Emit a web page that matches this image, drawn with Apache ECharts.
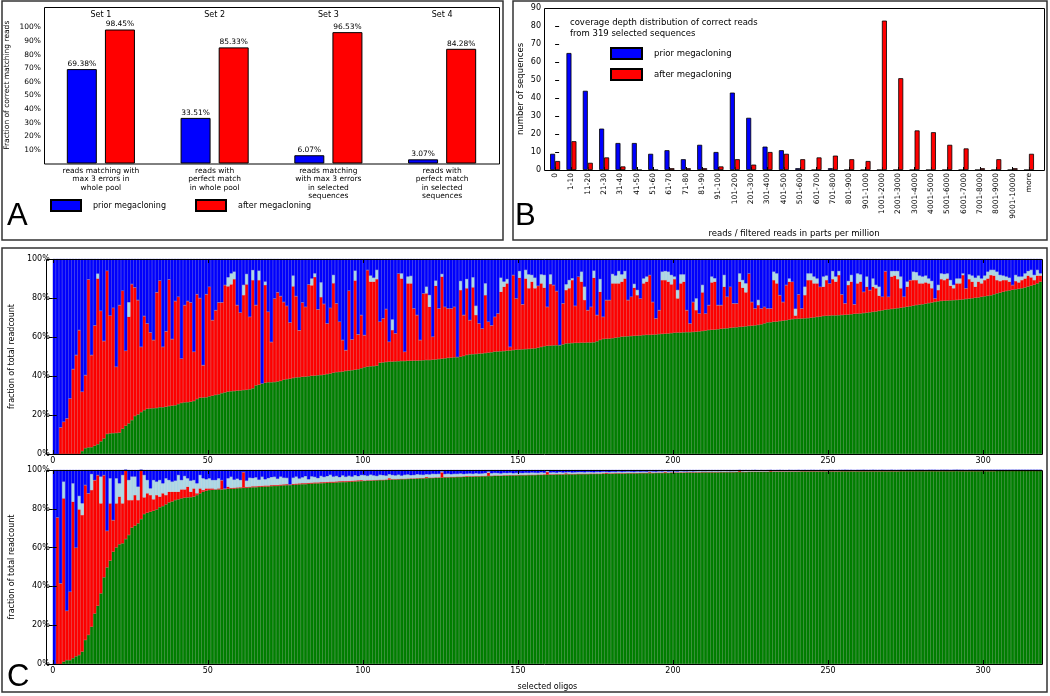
<!DOCTYPE html>
<html><head><meta charset="utf-8">
<script src="https://cdn.jsdelivr.net/npm/echarts@6/dist/echarts.min.js"></script>
<style>html,body{margin:0;padding:0;background:#fff}#c{width:1050px;height:696px}</style>
</head><body><div id="c"></div>
<script>
// ---------- Panel A ----------
const setNames = ['Set 1', 'Set 2', 'Set 3', 'Set 4'];
const aCategories = [
  'reads matching with\nmax 3 errors in\nwhole pool',
  'reads with\nperfect match\nin whole pool',
  'reads matching\nwith max 3 errors\nin selected\nsequences',
  'reads with\nperfect match\nin selected\nsequences'
];
const aPrior = [69.38, 33.51, 6.07, 3.07];
const aAfter = [98.45, 85.33, 96.53, 84.28];
const aTicks = [10, 20, 30, 40, 50, 60, 70, 80, 90, 100];

// ---------- Panel B ----------
const bCategories = ['0','1-10','11-20','21-30','31-40','41-50','51-60','61-70','71-80','81-90','91-100',
  '101-200','201-300','301-400','401-500','501-600','601-700','701-800','801-900','901-1000',
  '1001-2000','2001-3000','3001-4000','4001-5000','5001-6000','6001-7000','7001-8000','8001-9000','9001-10000','more'];
const bPrior = [9,65,44,23,15,15,9,11,6,14,10,43,29,13,11,1,0,1,0,0,0,0,0,0,0,0,0,0,0,0];
const bAfter = [5,16,4,7,2,0,0,1,1,1,2,6,3,10,9,6,7,8,6,5,83,51,22,21,14,12,1,6,1,9];

// ---------- Panel C (upper): cumulative tops in % ----------
const cTicks = [0, 50, 100, 150, 200, 250, 300];
const greenTop = [
0,0,0,0,0,0,0,0,0,1.5,
3,3.4,3.5,4.2,5,6.5,8,10.3,10.6,10.7,
10.8,11,13,14.5,15.7,17.4,19.5,20.3,21.5,22.5,
23.2,23.4,23.5,23.6,24,24,24.2,24.6,24.8,25,
25.6,26.2,26.5,26.6,26.8,27.2,28.2,28.9,29,29.1,
29.6,29.9,30.3,30.6,31.2,31.6,32,32.2,32.3,32.5,
32.6,32.8,32.9,33.2,33.7,35.2,35.5,36.2,36.5,36.8,
36.8,36.9,37.2,37.5,38.1,38.4,38.6,39,39.3,39.4,
39.6,39.7,39.9,40.1,40.2,40.4,40.5,40.7,41,41.3,
41.7,42,42.1,42.3,42.6,42.8,43,43.2,43.5,44,
44.5,44.8,45,45.1,45.3,46.8,47,47.2,47.4,47.4,
47.5,47.6,47.7,47.7,47.8,47.8,47.9,47.9,48,48.1,
48.2,48.2,48.4,48.5,48.7,48.9,49.1,49.3,49.4,49.6,
49.8,49.9,50.3,50.8,51.1,51.2,51.3,51.5,51.6,51.8,
52,52.2,52.5,52.6,52.7,52.8,53,53.1,53.3,53.5,
53.6,53.7,53.8,53.9,54.1,54.2,54.5,54.9,55.3,55.5,
55.6,55.7,55.8,55.9,56.2,56.7,56.8,56.9,57,57,
57.1,57.1,57.2,57.2,57.3,57.8,58.5,59,59.1,59.2,
59.4,59.6,59.9,60.2,60.3,60.4,60.5,60.6,60.7,60.8,
61,61.1,61.1,61.2,61.3,61.5,61.6,61.7,61.8,62,
62.2,62.3,62.3,62.4,62.5,62.5,62.6,62.7,62.9,63.1,
63.3,63.6,63.7,63.8,64,64.2,64.4,64.5,64.7,64.9,
65,65.2,65.3,65.5,65.7,65.8,66,66.2,66.5,67,
67.5,67.6,67.8,67.9,68.2,68.4,68.6,68.9,69.2,69.3,
69.4,69.5,69.6,69.7,69.9,70.1,70.3,70.5,70.8,70.9,
71,71.1,71.1,71.2,71.3,71.4,71.5,71.7,71.9,72,
72.1,72.3,72.5,72.7,72.9,73.1,73.4,73.7,74,74.2,
74.4,74.6,74.8,75,75.3,75.5,75.8,76.1,76.4,76.6,
76.8,77.1,77.4,77.7,78,78.3,78.5,78.6,78.7,78.8,
78.9,79,79.1,79.3,79.5,79.7,79.9,80.1,80.3,80.6,
80.9,81.1,81.4,81.9,82.4,82.8,83.2,83.6,83.9,84.2,
84.5,84.7,85,85.4,85.9,86.4,86.8,87.5,88.4];
const redTop = [
0,0,13.7,16.6,18.3,28.5,43.6,50.8,63.6,32,
40.5,89.6,50.8,66,90,73.5,58,94,71,75,
44.8,76.4,83.8,53,70.4,87.2,85.5,79,55,70.8,
67,62.4,58.5,83,89,55,63,89.6,59,78.5,
80.7,49,76.4,78.5,77.8,52.5,82,80,45.6,82,
85.8,68.7,73.8,77.8,77.8,86.7,86,87,89.7,76.4,
72.6,81.5,87,70.4,89.2,76.4,89.2,0,86.7,73,
57.5,79.8,83,81,78,76,67.5,86,81,63.5,
77.8,75.5,87,86.5,90.8,74.2,80.5,77,67,75,
87.6,77.3,67.9,58.5,53.3,83.8,58.8,89,61.4,71.3,
61,94.4,88.4,88.4,89.7,67.9,69.6,74.4,57.6,63.6,
61.9,92.6,90,52.5,87.5,87.5,74.7,71.3,58.5,82.4,
82.4,75.5,60.2,86.3,74.7,91,75.5,74.7,74.7,75.5,
0,84.1,71.3,85,68.7,85.5,71.3,67,64.4,81.5,
67.9,66,70.4,72.1,83.2,85.8,87.5,55,91.8,79.8,
90.4,76.8,90,85,88.4,85,86.3,87.5,85.3,75.5,
87.2,86.7,83.6,0,77.3,84.1,85,89.2,76,91,
88.4,79,73.8,75.5,90.4,71.3,83.2,70.4,79,79,
87.5,87.5,87.5,88.4,90,79,80.7,85.3,81.5,79.8,
87.5,88.4,91.8,78,69.6,73.8,89.2,89.2,88.4,87,
89.7,79.8,87.5,88.4,73.8,67,78,73.8,72.1,82.9,
72.1,76.4,88,88.4,76.4,76.4,85.8,80.7,85.8,77.3,
77.3,88.4,85.3,82.9,92.6,78,74.7,76.4,74.7,75.5,
74.7,74.7,89.2,87.5,81.5,78,86.7,88.4,88.4,71,
81.9,74.7,81.5,89.2,89.2,87.5,87.5,85.8,85.8,89.2,
87.5,89.7,88.4,91.8,81.9,77.3,86.7,88.4,76.8,87.5,
88.4,83.2,85.8,84.1,85.8,85,81.2,80.7,93.8,80.7,
91,91.5,89.7,85,80.7,85.8,89.2,89.2,89.2,87.5,
87.5,88,87.5,85,79.8,84.1,89.7,89.2,90,86.3,
85,87.5,87.5,91.8,85,89.7,88.4,85.8,88.4,87.5,
89.2,90,91.8,91.5,89.2,88.7,89.2,89.2,88.4,86.7,
88.7,88,89.2,90,91.5,90.6,89.2,91.5,91.5];
const lightTop = [
0,0,0,0,0,0,0,0,0,0,
0,0,0,0,92.5,0,0,0,0,0,
0,0,0,0,77.8,0,0,0,0,0,
0,0,0,0,0,0,0,0,0,0,
0,0,0,0,0,0,0,0,0,0,
0,0,0,0,0,0,90.6,92.6,93.5,0,
0,86.7,92.3,0,94.3,0,94,0,88.4,0,
0,0,0,0,0,0,0,91.5,0,0,
0,0,0,90,92.6,0,88,0,0,0,
91.8,0,0,0,0,0,0,94,0,0,
0,0,91.5,90.4,94.4,0,0,0,0,69,
0,0,92.6,0,91,91.3,0,0,0,0,
85.8,81.5,0,88.9,0,92.3,0,0,0,0,
0,88.7,0,89.7,0,90.6,76,0,0,87.5,
0,0,0,0,90.4,88.4,89.7,0,0,0,
93.8,0,94.4,92.1,91.8,90.4,0,92.1,91.8,0,
92.1,0,0,0,0,87,89.2,90.1,0,0,
93.5,85.8,0,0,94,0,89.7,0,0,0,
92.3,91.5,93.8,92.1,93.8,0,0,87.2,84.1,0,
90,91,0,0,0,0,93.5,93.8,93.5,91.8,
91,84.1,92.1,92.1,0,0,0,79.8,0,86.7,
0,0,91,90.1,0,0,91.8,0,0,0,
0,92.6,89.2,87.5,0,0,0,79,0,0,
0,0,93.5,92.6,0,0,0,90,0,74.5,
0,0,85.8,92.6,92.6,91,90,0,91,91.5,
0,93.8,91,93.8,0,0,88.7,91.8,0,92.6,
92.1,0,91,0,90,86.7,85.8,0,0,0,
93.8,93.8,93.8,91,0,88.4,0,93.5,93.2,91.5,
91,91.5,90,88.7,0,86.7,92.6,92.3,92.6,89.2,
86.7,90,90,92.6,0,92.1,91.5,90.4,91.5,90,
91.5,93.5,94.4,94.4,93.5,91.8,91.5,91,90.4,0,
91.8,91,91,92.6,93.8,94.4,91.8,94.4,92.6];

// ---------- Panel C (lower): cumulative tops in % ----------
const greenTopB = [
0,0,0,1.2,2,2,3,4,4.6,6.4,
12.4,15,19.2,26,30,36.4,44.7,49.8,53.3,57.9,
60.1,61.7,62.2,64.4,66.5,70.3,71.3,72.5,74.7,77.3,
78,78.5,79,79.7,80.8,81.4,82.3,83.3,83.8,84.5,
84.9,85.4,85.7,85.9,86,86.3,87.1,88,88.8,89.3,
89.7,89.8,89.9,90,90,90.1,90.3,90.4,90.4,90.6,
90.7,90.8,90.8,91,91.1,91.1,91.3,91.4,91.5,91.5,
91.7,91.8,91.8,92,92.1,92.2,92.2,92.4,92.5,92.6,
92.7,92.7,92.9,93,93.1,93.1,93.2,93.3,93.4,93.5,
93.5,93.6,93.7,93.8,93.8,93.9,94,94.1,94.2,94.3,
94.4,94.5,94.5,94.6,94.7,94.8,94.8,94.9,95,95.1,
95.1,95.2,95.3,95.3,95.4,95.5,95.5,95.6,95.7,95.7,
95.8,95.9,95.9,96,96,96.1,96.2,96.2,96.3,96.3,
96.4,96.4,96.5,96.5,96.6,96.6,96.7,96.7,96.8,96.8,
96.9,96.9,97,97,97,97.1,97.1,97.2,97.2,97.2,
97.3,97.3,97.3,97.4,97.4,97.4,97.5,97.5,97.5,97.6,
97.6,97.6,97.7,97.7,97.7,97.8,97.8,97.8,97.8,97.9,
97.9,97.9,97.9,98,98,98,98,98.1,98.1,98.1,
98.1,98.2,98.2,98.2,98.2,98.3,98.3,98.3,98.3,98.4,
98.4,98.4,98.4,98.4,98.5,98.5,98.5,98.5,98.5,98.6,
98.6,98.6,98.6,98.6,98.7,98.7,98.7,98.7,98.7,98.8,
98.8,98.8,98.8,98.8,98.8,98.9,98.9,98.9,98.9,98.9,
99,99,99,99,99.1,99.1,99.1,99.1,99.1,99.1,
99.1,99.2,99.2,99.2,99.2,99.2,99.2,99.2,99.2,99.2,
99.2,99.3,99.3,99.3,99.3,99.3,99.3,99.3,99.3,99.3,
99.3,99.3,99.3,99.3,99.4,99.4,99.4,99.4,99.4,99.4,
99.4,99.4,99.4,99.4,99.4,99.4,99.4,99.4,99.4,99.4,
99.4,99.4,99.4,99.5,99.5,99.5,99.5,99.5,99.5,99.5,
99.5,99.5,99.5,99.5,99.5,99.5,99.5,99.5,99.5,99.5,
99.5,99.5,99.5,99.5,99.5,99.5,99.5,99.5,99.5,99.5,
99.5,99.5,99.5,99.5,99.6,99.6,99.6,99.6,99.6,99.6,
99.6,99.6,99.6,99.6,99.6,99.6,99.6,99.6,99.6];
const redTopB = [
0,75.6,41.6,85.4,27.5,37.3,83.7,60,79.7,76.8,
92.3,88,89.7,94.8,97.4,82.8,97.4,68.7,82.8,74.2,
82.8,86.3,82.8,100,84.5,84.5,87.1,84.5,100,85.9,
88,87.1,84.9,87.1,86.3,88,87.1,88.8,88.8,88.8,
88.8,90,90,91.4,88.8,90.5,88,90.5,89.7,90.5,
90.5,90.5,90,90.5,94.8,90.5,91.4,90.8,90.9,91,
91.1,99,91.3,91.4,91.6,91.6,91.8,91.9,92,92,
92.2,92.3,92.3,92.5,92.6,92.7,92.6,92.9,93,93.1,
93.2,93.2,93.4,93.5,93.6,93.6,93.7,93.8,93.9,94,
94,94.1,94.2,94.3,94.3,94.4,94.5,94.6,94.7,94.8,
94.6,94.7,94.7,94.8,94.9,95,95,95.1,95.8,95.3,
95.3,95.4,95.5,95.5,95.6,95.7,95.7,95.8,95.9,95.9,
96.4,96.1,96.1,96.2,96.2,98.8,96.4,96.4,96.5,96.5,
96.6,96.6,96.7,96.9,96.8,96.8,96.9,96.9,97,97,
98.6,97.1,97.2,97.2,97.2,97.3,97.3,97.4,97.4,97.4,
97.5,97.5,97.5,97.6,97.6,97.6,97.7,97.7,97.8,99,
97.8,97.8,97.9,97.9,97.9,98.3,98,98,98,98.1,
98.1,98.1,98.1,98.2,98.2,98.2,98.2,98.3,98.6,98.3,
98.3,98.4,98.4,98.4,98.4,98.5,98.5,98.5,98.5,98.6,
98.6,98.6,98.9,98.6,98.7,98.7,98.7,99,98.7,98.8,
98.8,98.8,98.8,98.8,98.9,98.9,98.9,98.9,98.9,99,
99,99,99,99,99,99.1,99.1,99.1,99.1,99.1,
99.1,99.6,99.1,99.1,99.2,99.2,99.2,99.2,99.2,99.2,
99.2,99.6,99.3,99.3,99.3,99.3,99.3,99.3,99.3,99.3,
99.3,99.4,99.4,99.4,99.4,99.4,99.4,99.4,99.4,99.4,
99.4,99.4,99.4,99.4,99.5,99.5,99.5,99.5,99.5,99.5,
99.5,99.5,99.5,99.5,99.5,99.5,99.5,99.5,99.5,99.5,
99.5,99.5,99.5,99.6,99.6,99.6,99.6,99.6,99.6,99.6,
99.6,99.6,99.6,99.6,99.6,99.6,99.6,99.6,99.6,99.6,
99.6,99.9,99.6,99.6,99.6,99.6,99.6,99.6,99.6,99.6,
99.6,99.6,99.6,99.6,99.7,99.7,99.7,99.7,99.7,99.7,
99.7,99.7,99.7,99.7,99.7,99.7,99.7,99.7,99.7];
const lightTopB = [
0,0,0,94,0,0,93.1,0,86.6,82.8,
0,0,97.9,0,0,96.6,0,0,95.7,0,
95.7,93.1,97.4,0,94.8,96.6,96.6,91.4,0,97.4,
94.8,90.5,94.8,94,94.8,93.1,95.7,94.8,94,94.5,
97.4,94.8,96.9,95.7,94.5,94.8,93.1,97.4,95.7,95.2,
95.7,94.8,94.8,95.7,0,0,95.7,96.5,95,95.5,
94.8,0,94.5,96,95.8,96.2,95,96.5,95.2,95.8,
96.3,96.5,95.5,96.6,96,95.9,0,96,96.6,95.6,
96.2,96.8,95.2,96.7,96.4,95.8,96.9,96.4,96.8,97.5,
96.6,96.9,96.3,97.2,96.5,97,96.6,97.3,96.8,97.4,
97.3,97,97.6,97.2,96.9,97.5,97.3,97.1,97.8,97.4,
97.2,97.6,97.1,97.5,97.7,97.3,97.4,97.8,97.6,97.5,
97.8,97.7,98,97.9,98,99.3,97.9,98.1,97.8,98,
98,98.2,97.9,98.1,98.2,98,98.3,98.1,98.2,98.4,
99.2,98.3,98.5,98.4,98.2,98.5,98.4,98.6,98.3,98.5,
98.5,98.4,98.6,98.5,98.7,98.6,98.5,98.8,98.6,99.5,
98.7,98.8,98.6,98.9,98.7,98.8,98.9,98.7,98.8,98.9,
98.9,98.8,99,98.9,98.8,99,98.9,99.1,99,98.9,
99.1,99,99.2,99,99.1,99.2,99.1,99,99.2,99.1,
99.2,99.1,99.3,99.2,99.1,99.3,99.2,99.4,99.2,99.3,
99.3,99.2,99.4,99.3,99.3,99.4,99.3,99.4,99.5,99.4,
99.4,99.5,99.4,99.5,99.4,99.5,99.6,99.5,99.4,99.5,
99.6,99.8,99.5,99.7,99.6,99.7,99.8,99.6,99.7,99.6,
99.7,99.8,99.6,99.7,99.8,99.7,99.6,99.8,99.7,99.7,
99.8,99.7,99.8,99.7,99.8,99.8,99.7,99.8,99.8,99.7,
99.8,99.8,99.7,99.8,99.8,99.9,99.8,99.8,99.7,99.8,
99.8,99.9,99.8,99.8,99.9,99.8,99.8,99.9,99.8,99.8,
99.9,99.8,99.8,99.9,99.8,99.9,99.9,99.8,99.9,99.9,
99.9,99.8,99.9,99.9,99.9,99.8,99.9,99.9,99.9,99.8,
99.9,99.9,99.9,99.9,99.8,99.9,99.9,99.9,99.9,99.9,
99.9,99.9,99.9,99.9,99.9,99.9,99.9,99.9,99.9,99.9,
99.9,99.9,99.9,99.9,99.9,99.9,99.9,99.9,99.9];

// ---------- derive stacked segments ----------
function segments(g, r, l) {
  const G = [], R = [], L = [], B = [];
  for (let i = 0; i < g.length; i++) {
    const rt = Math.max(r[i], g[i]);
    const lt = Math.max(l[i], rt);
    G.push(g[i]);
    R.push(+(rt - g[i]).toFixed(2));
    L.push(+(lt - rt).toFixed(2));
    B.push(+(100 - lt).toFixed(2));
  }
  return {G, R, L, B};
}
const up = segments(greenTop, redTop, lightTop);
const lo = segments(greenTopB, redTopB, lightTopB);
const oligoIdx = greenTop.map((_, i) => i);
const bIdx = bCategories.map((_, i) => i);

const FONT = 'DejaVu Sans';
const BLUE = '#0000ff', RED = '#ff0000', GREEN = '#008000', LIGHT = '#add8e6';

const gridA = {left: 44, top: 7, width: 455, height: 156.5};
const gridB = {left: 544, top: 8, width: 500, height: 162};
const gridC1 = {left: 46, top: 259, width: 996, height: 195};
const gridC2 = {left: 46, top: 470, width: 996, height: 194};

function frame(g) {
  return {type: 'rect', z: 100, silent: true,
    shape: {x: g.left + 0.5, y: g.top + 0.5, width: g.width, height: g.height},
    style: {fill: null, stroke: '#000', lineWidth: 1}};
}
function box(x, y, w, h) {
  return {type: 'rect', z: 100, silent: true, shape: {x, y, width: w, height: h},
    style: {fill: null, stroke: '#333', lineWidth: 1.5}};
}
const tickStyle = {lineStyle: {color: '#000', width: 1}};

function cSeries(xi, yi, s, stack) {
  const base = {type: 'bar', xAxisIndex: xi, yAxisIndex: yi, stack, silent: true,
    barCategoryGap: '0%', barGap: '0%'};
  return [
    Object.assign({}, base, {name: 'green', data: s.G, itemStyle: {color: GREEN, borderColor: '#006a00', borderWidth: 0.4}}),
    Object.assign({}, base, {name: 'red', data: s.R, itemStyle: {color: RED, borderColor: '#d80000', borderWidth: 0.4}}),
    Object.assign({}, base, {name: 'light', data: s.L, itemStyle: {color: LIGHT, borderColor: '#9cc4d2', borderWidth: 0.4}}),
    Object.assign({}, base, {name: 'blue', data: s.B, itemStyle: {color: BLUE, borderColor: '#0000dd', borderWidth: 0.4}})
  ];
}

const legendCommon = {orient: 'horizontal', padding: 0, itemGap: 0,
  textStyle: {fontSize: 8, fontFamily: FONT, color: '#000', padding: [0, 0, 0, 7]}, selectedMode: false, icon: 'rect'};

const option = {
  animation: false,
  textStyle: {fontFamily: FONT, color: '#000'},
  grid: [
    Object.assign({}, gridA, {containLabel: false}),
    Object.assign({}, gridB, {containLabel: false}),
    Object.assign({}, gridC1, {containLabel: false}),
    Object.assign({}, gridC2, {containLabel: false})
  ],
  legend: [
    Object.assign({}, legendCommon, {left: 50, top: 199, itemWidth: 30, itemHeight: 11, data: ['prior megacloning']}),
    Object.assign({}, legendCommon, {left: 195, top: 199, itemWidth: 30, itemHeight: 11, data: ['after megacloning']}),
    Object.assign({}, legendCommon, {left: 610, top: 47, itemWidth: 31, itemHeight: 11, data: ['prior megacloning'], textStyle: Object.assign({}, legendCommon.textStyle, {fontSize: 8.5})}),
    Object.assign({}, legendCommon, {left: 610, top: 68, itemWidth: 31, itemHeight: 11, data: ['after megacloning'], textStyle: Object.assign({}, legendCommon.textStyle, {fontSize: 8.5})})
  ],
  xAxis: [
    {gridIndex: 0, type: 'category', data: aCategories, axisLine: {show: false}, axisTick: {show: false},
      axisLabel: {interval: 0, fontSize: 7.5, lineHeight: 8.5, margin: 3, color: '#000'}},
    {gridIndex: 0, type: 'category', position: 'top', data: setNames, axisLine: {show: false}, axisTick: {show: false},
      axisLabel: {inside: true, margin: 4, fontSize: 8, color: '#000'}},
    {gridIndex: 1, type: 'value', min: -0.68, max: 29.92, splitLine: {show: false}, axisLine: {show: false},
      axisTick: Object.assign({inside: true, length: 3, customValues: bIdx}, tickStyle),
      axisLabel: {customValues: bIdx, rotate: 90, fontSize: 7.5, margin: 3, color: '#000',
        formatter: v => bCategories[Math.round(v)]},
      name: 'reads / filtered reads in parts per million', nameLocation: 'middle', nameGap: 59,
      nameTextStyle: {fontSize: 8.5, color: '#000'}},
    {gridIndex: 2, type: 'category', data: oligoIdx, show: false},
    {gridIndex: 2, type: 'value', min: 0, max: 319, position: 'bottom', z: 10, splitLine: {show: false}, axisLine: {show: false},
      axisTick: Object.assign({inside: true, length: 4, customValues: cTicks}, tickStyle),
      axisLabel: {customValues: cTicks, fontSize: 8, margin: 3, color: '#000'}},
    {gridIndex: 2, type: 'value', min: 0, max: 319, position: 'top', z: 10, splitLine: {show: false}, axisLine: {show: false},
      axisTick: Object.assign({inside: true, length: 4, customValues: cTicks}, tickStyle), axisLabel: {show: false}},
    {gridIndex: 3, type: 'category', data: oligoIdx, show: false},
    {gridIndex: 3, type: 'value', min: 0, max: 319, position: 'bottom', z: 10, splitLine: {show: false}, axisLine: {show: false},
      axisTick: Object.assign({inside: true, length: 4, customValues: cTicks}, tickStyle),
      axisLabel: {customValues: cTicks, fontSize: 8, margin: 3, color: '#000'},
      name: 'selected oligos', nameLocation: 'middle', nameGap: 19, nameTextStyle: {fontSize: 8, color: '#000'}},
    {gridIndex: 3, type: 'value', min: 0, max: 319, position: 'top', z: 10, splitLine: {show: false}, axisLine: {show: false},
      axisTick: Object.assign({inside: true, length: 4, customValues: cTicks}, tickStyle), axisLabel: {show: false}}
  ],
  yAxis: [
    {gridIndex: 0, type: 'value', min: 0, max: 115, splitLine: {show: false}, axisLine: {show: false},
      axisTick: Object.assign({inside: true, length: 4, customValues: aTicks}, tickStyle),
      axisLabel: {customValues: aTicks, formatter: '{value}%', fontSize: 7.5, margin: 3, color: '#000'},
      name: 'Fraction of correct matching reads', nameLocation: 'middle', nameGap: 33,
      nameTextStyle: {fontSize: 7.5, color: '#000'}},
    {gridIndex: 1, type: 'value', min: 0, max: 90, interval: 10, splitLine: {show: false}, axisLine: {show: false},
      axisTick: Object.assign({inside: true, length: 4}, tickStyle),
      axisLabel: {fontSize: 8, margin: 3, color: '#000'},
      name: 'number of sequences', nameLocation: 'middle', nameGap: 19, nameTextStyle: {fontSize: 8.5, color: '#000'}},
    {gridIndex: 2, type: 'value', min: 0, max: 100, interval: 20, z: 10, splitLine: {show: false}, axisLine: {show: false},
      axisTick: Object.assign({inside: true, length: 4}, tickStyle),
      axisLabel: {formatter: '{value}%', fontSize: 8, margin: 3, color: '#000'},
      name: 'fraction of total readcount', nameLocation: 'middle', nameGap: 34, nameTextStyle: {fontSize: 8, color: '#000'}},
    {gridIndex: 2, type: 'value', position: 'right', min: 0, max: 100, interval: 20, z: 10, splitLine: {show: false},
      axisLine: {show: false}, axisTick: Object.assign({inside: true, length: 4}, tickStyle), axisLabel: {show: false}},
    {gridIndex: 3, type: 'value', min: 0, max: 100, interval: 20, z: 10, splitLine: {show: false}, axisLine: {show: false},
      axisTick: Object.assign({inside: true, length: 4}, tickStyle),
      axisLabel: {formatter: '{value}%', fontSize: 8, margin: 3, color: '#000'},
      name: 'fraction of total readcount', nameLocation: 'middle', nameGap: 34, nameTextStyle: {fontSize: 8, color: '#000'}},
    {gridIndex: 3, type: 'value', position: 'right', min: 0, max: 100, interval: 20, z: 10, splitLine: {show: false},
      axisLine: {show: false}, axisTick: Object.assign({inside: true, length: 4}, tickStyle), axisLabel: {show: false}}
  ],
  series: [
    {type: 'bar', name: 'prior megacloning', xAxisIndex: 0, yAxisIndex: 0, data: aPrior, barWidth: 30, barGap: '27%',
      itemStyle: {color: BLUE, borderColor: '#000', borderWidth: 1},
      label: {show: true, position: 'top', distance: 1, fontSize: 7.5, color: '#000', formatter: p => p.value.toFixed(2) + '%'}},
    {type: 'bar', name: 'after megacloning', xAxisIndex: 0, yAxisIndex: 0, data: aAfter, barWidth: 30, barGap: '27%',
      itemStyle: {color: RED, borderColor: '#000', borderWidth: 1},
      label: {show: true, position: 'top', distance: 1, fontSize: 7.5, color: '#000', formatter: p => p.value.toFixed(2) + '%'}},
    {type: 'bar', name: 'prior megacloning', xAxisIndex: 2, yAxisIndex: 1, data: bPrior.map((v, i) => [i, v]),
      barWidth: 5, barGap: '0%', itemStyle: {color: BLUE, borderColor: '#000', borderWidth: 0.8}},
    {type: 'bar', name: 'after megacloning', xAxisIndex: 2, yAxisIndex: 1, data: bAfter.map((v, i) => [i, v]),
      barWidth: 5, barGap: '0%', itemStyle: {color: RED, borderColor: '#000', borderWidth: 0.8}}
  ].concat(cSeries(3, 2, up, 'upper'), cSeries(6, 4, lo, 'lower')),
  graphic: [
    frame(gridA), frame(gridB), frame(gridC1), frame(gridC2),
    box(2, 1, 501, 239), box(513, 1, 534, 239), box(2, 248, 1045, 444),
    {type: 'text', z: 100, silent: true, x: 7, y: 201, style: {text: 'A', fontSize: 31, fontFamily: 'Liberation Sans', fill: '#000'}},
    {type: 'text', z: 100, silent: true, x: 515, y: 201, style: {text: 'B', fontSize: 31, fontFamily: 'Liberation Sans', fill: '#000'}},
    {type: 'text', z: 100, silent: true, x: 7, y: 662, style: {text: 'C', fontSize: 31, fontFamily: 'Liberation Sans', fill: '#000'}},
    {type: 'text', z: 100, silent: true, x: 570, y: 17,
      style: {text: 'coverage depth distribution of correct reads\nfrom 319 selected sequences', fontSize: 8.5, lineHeight: 11, fontFamily: FONT, fill: '#000'}}
  ]
};

const chart = echarts.init(document.getElementById('c'), null, {renderer: 'canvas'});
chart.setOption(option);
</script></body></html>
